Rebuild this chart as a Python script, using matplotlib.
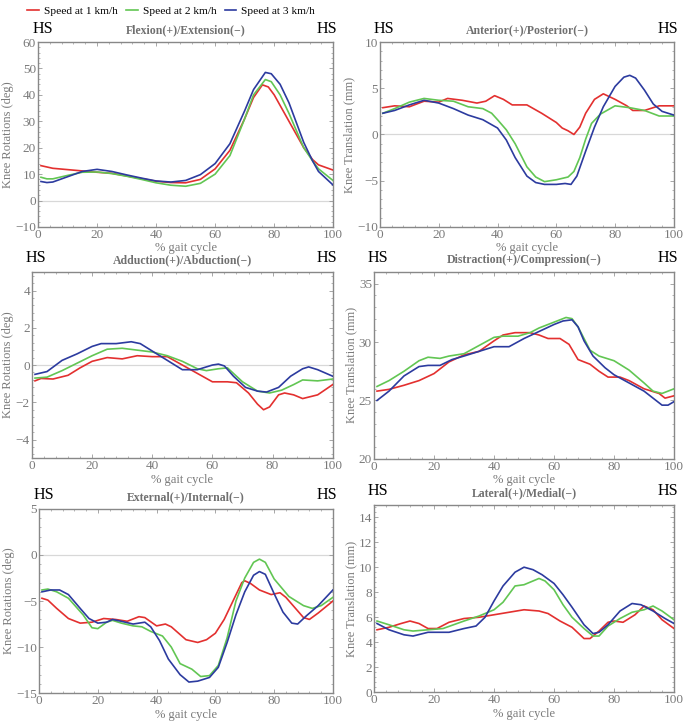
import numpy as np
import matplotlib
matplotlib.use("Agg")
from matplotlib import pyplot as plt
from matplotlib.ticker import MultipleLocator, AutoMinorLocator

plt.rcParams['font.family'] = ['Liberation Serif', 'DejaVu Serif']

speeds = ['Speed at 1 km/h', 'Speed at 2 km/h', 'Speed at 3 km/h']
colors = ['#e3302f', '#62c653', '#2c3b9f']

## Flexion(+)/Extension(-)
flex_x1 = [1, 5, 10, 15, 20, 25, 30, 35, 40, 45, 50, 55, 60, 65, 70, 73, 76, 78, 80, 85, 90, 93, 95, 100]
flex_y1 = [13.2, 12.2, 11.7, 11.2, 10.7, 10.3, 9.3, 8.3, 7.3, 6.8, 6.7, 8, 12, 19, 31, 39, 43.8, 43, 40, 30, 20, 15.5, 13.5, 11.5]
flex_x2 = [1, 3, 5, 10, 15, 20, 25, 30, 35, 40, 45, 50, 55, 60, 65, 70, 73, 77, 79, 82, 85, 90, 93, 95, 100]
flex_y2 = [8.8, 8.2, 8.2, 9.5, 10.7, 10.8, 10.2, 9.2, 8, 6.7, 5.8, 5.4, 6.5, 10, 17, 31, 40, 45.8, 45, 40, 33, 20, 15, 12, 7.5]
flex_x3 = [1, 3, 5, 10, 15, 20, 25, 30, 35, 40, 45, 50, 55, 60, 65, 70, 73, 77, 79, 82, 85, 90, 93, 95, 100]
flex_y3 = [7.2, 6.8, 7, 9, 11, 11.8, 11, 9.7, 8.5, 7.4, 7, 7.6, 9.8, 14, 21.5, 34, 42, 48.5, 48, 44, 37, 22, 15, 11, 5.8]

## Anterior(+)/Posterior(-)
ap_x1 = [1, 5, 10, 15, 20, 23, 28, 33, 36, 39, 42, 45, 50, 55, 60, 62, 64, 66, 68, 70, 73, 76, 80, 84, 86, 90, 95, 100]
ap_y1 = [2.9, 3.1, 3.0, 3.6, 3.5, 3.9, 3.7, 3.4, 3.6, 4.2, 3.8, 3.2, 3.2, 2.3, 1.3, 0.7, 0.4, 0.0, 0.8, 2.3, 3.8, 4.4, 3.8, 3.1, 2.6, 2.6, 3.1, 3.1]
ap_x2 = [1, 5, 10, 15, 20, 25, 30, 35, 38, 40, 43, 46, 50, 53, 56, 60, 64, 66, 68, 70, 72, 75, 80, 85, 90, 95, 100]
ap_y2 = [2.3, 2.8, 3.5, 3.9, 3.7, 3.6, 3.0, 2.8, 2.3, 1.6, 0.5, -1, -3.5, -4.6, -5.1, -4.9, -4.6, -4, -2.5, -0.5, 1.2, 2.2, 3.1, 2.9, 2.6, 2.0, 2.0]
ap_x3 = [1, 5, 10, 15, 20, 25, 30, 35, 40, 43, 46, 50, 53, 56, 60, 63, 65, 67, 70, 73, 76, 80, 83, 85, 87, 90, 93, 96, 100]
ap_y3 = [2.3, 2.6, 3.2, 3.7, 3.4, 2.8, 2.1, 1.6, 0.7, -0.6, -2.5, -4.5, -5.2, -5.4, -5.4, -5.3, -5.4, -4.5, -1.8, 0.8, 3, 5.2, 6.2, 6.4, 6.1, 4.8, 3.3, 2.5, 2.1]

## Adduction(+)/Abduction(-)
aa_x1 = [1, 3, 7, 12, 16, 20, 25, 30, 35, 40, 45, 50, 55, 60, 65, 68, 72, 75, 77, 79, 82, 84, 87, 90, 95, 100]
aa_y1 = [-0.85, -0.72, -0.75, -0.55, -0.15, 0.2, 0.4, 0.33, 0.5, 0.45, 0.45, 0.0, -0.45, -0.9, -0.9, -0.95, -1.5, -2.1, -2.4, -2.25, -1.6, -1.5, -1.6, -1.8, -1.6, -1.05]
aa_x2 = [1, 5, 10, 15, 20, 25, 30, 35, 40, 45, 50, 55, 58, 62, 65, 70, 75, 79, 83, 87, 90, 95, 100]
aa_y2 = [-0.7, -0.65, -0.3, 0.1, 0.5, 0.85, 0.9, 0.8, 0.7, 0.5, 0.2, -0.2, -0.3, -0.2, -0.15, -0.9, -1.4, -1.5, -1.35, -1.05, -0.8, -0.85, -0.75]
aa_x3 = [1, 5, 10, 15, 20, 23, 28, 33, 36, 40, 45, 50, 55, 60, 62, 64, 67, 71, 75, 78, 82, 86, 90, 92, 95, 100]
aa_y3 = [-0.5, -0.35, 0.25, 0.6, 1.0, 1.15, 1.15, 1.25, 1.15, 0.75, 0.25, -0.25, -0.25, 0.0, 0.05, -0.05, -0.6, -1.2, -1.4, -1.45, -1.2, -0.6, -0.2, -0.1, -0.25, -0.6]

## Distraction(+)/Compression(-)
dc_x1 = [1, 5, 10, 15, 20, 25, 30, 35, 40, 43, 47, 52, 55, 58, 62, 65, 68, 72, 75, 78, 82, 85, 90, 95, 97, 100]
dc_y1 = [25.8, 25.95, 26.3, 26.7, 27.3, 28.3, 28.9, 29.2, 30.1, 30.6, 30.8, 30.8, 30.6, 30.3, 30.3, 29.8, 28.5, 28.1, 27.5, 27.0, 27.0, 26.7, 26.0, 25.6, 25.2, 25.4]
dc_x2 = [1, 5, 10, 15, 18, 22, 25, 30, 35, 40, 43, 48, 52, 55, 60, 64, 66, 68, 72, 75, 80, 85, 90, 93, 96, 100]
dc_y2 = [26.2, 26.7, 27.5, 28.4, 28.7, 28.6, 28.8, 29.0, 29.7, 30.4, 30.5, 30.5, 30.8, 31.2, 31.7, 32.1, 32.0, 31.3, 29.3, 28.8, 28.4, 27.6, 26.5, 25.8, 25.6, 26.0]
dc_x3 = [1, 5, 10, 15, 18, 22, 26, 30, 35, 40, 45, 50, 55, 60, 63, 66, 68, 70, 73, 77, 80, 85, 90, 94, 96, 98, 100]
dc_y3 = [25.0, 25.8, 27.1, 27.9, 28.0, 28.0, 28.5, 28.8, 29.2, 29.6, 29.6, 30.3, 30.9, 31.5, 31.8, 31.9, 31.3, 30.1, 28.8, 27.8, 27.2, 26.5, 25.8, 25.0, 24.6, 24.6, 24.9]

## External(+)/Internal(-)
ei_x1 = [1, 3, 6, 10, 14, 18, 22, 26, 30, 34, 36, 40, 43, 45, 50, 54, 57, 60, 63, 66, 69, 70, 72, 75, 79, 82, 84, 87, 90, 92, 95, 100]
ei_y1 = [-4.7, -4.9, -5.8, -6.9, -7.4, -7.3, -6.9, -7.0, -7.2, -6.7, -6.8, -7.7, -7.5, -7.8, -9.2, -9.5, -9.2, -8.5, -7, -5, -3.0, -2.8, -3.1, -3.8, -4.3, -4.1, -4.6, -5.7, -6.8, -7.0, -6.3, -5.0]
ei_x2 = [1, 3, 6, 10, 15, 18, 20, 23, 25, 28, 32, 35, 38, 42, 45, 48, 52, 55, 58, 61, 64, 67, 70, 73, 75, 77, 80, 85, 90, 93, 96, 100]
ei_y2 = [-3.8, -3.7, -4.0, -4.7, -6.5, -7.9, -8.0, -7.3, -7.1, -7.4, -7.7, -7.8, -8.3, -8.8, -10, -11.8, -12.4, -13.2, -13.1, -12, -9, -5, -2.5, -0.8, -0.45, -0.8, -2.6, -4.5, -5.5, -5.8, -5.5, -4.6]
ei_x3 = [1, 4, 7, 10, 14, 17, 20, 23, 25, 28, 32, 36, 38, 41, 44, 48, 51, 54, 58, 61, 64, 67, 70, 73, 75, 77, 80, 83, 86, 88, 91, 95, 100]
ei_y3 = [-4.0, -3.8, -3.8, -4.3, -5.8, -6.9, -7.4, -7.3, -7.0, -7.2, -7.5, -7.3, -7.8, -9.3, -11.3, -13.0, -13.8, -13.7, -13.3, -12.2, -9.5, -6.5, -4, -2.2, -1.8, -2.1, -4.2, -6.2, -7.4, -7.5, -6.6, -5.5, -3.8]

## Lateral(+)/Medial(-)
lm_x1 = [1, 5, 9, 12, 15, 18, 21, 25, 30, 35, 40, 45, 50, 55, 58, 62, 66, 70, 72, 75, 78, 80, 83, 87, 90, 93, 96, 100]
lm_y1 = [5.0, 5.2, 5.5, 5.7, 5.5, 5.1, 5.1, 5.6, 5.9, 6.0, 6.2, 6.4, 6.6, 6.5, 6.3, 5.7, 5.2, 4.3, 4.3, 4.9, 5.6, 5.7, 5.6, 6.2, 6.9, 6.6, 5.8, 5.1]
lm_x2 = [1, 5, 10, 13, 18, 23, 30, 35, 40, 43, 47, 50, 53, 55, 57, 60, 63, 66, 70, 73, 75, 78, 82, 86, 90, 93, 96, 100]
lm_y2 = [5.7, 5.4, 5.0, 4.9, 5.0, 5.1, 5.7, 6.1, 6.6, 7.2, 8.5, 8.6, 8.9, 9.1, 8.9, 8.2, 7.0, 6.0, 5.1, 4.5, 4.5, 5.3, 5.9, 6.4, 6.6, 6.9, 6.5, 5.8]
lm_x3 = [1, 5, 10, 13, 18, 25, 30, 34, 37, 40, 43, 47, 50, 53, 56, 60, 63, 66, 70, 73, 75, 78, 82, 86, 89, 93, 97, 100]
lm_y3 = [5.5, 5.0, 4.6, 4.5, 4.8, 4.8, 5.1, 5.3, 6.0, 7.3, 8.5, 9.6, 10.0, 9.8, 9.4, 8.7, 7.8, 6.8, 5.4, 4.7, 4.8, 5.4, 6.5, 7.1, 7.0, 6.5, 5.9, 5.5]

panels = [
    ('Flexion(+)/Extension(\u2212)', 'Knee Rotations (deg)', (-10, 60), 10,
     [(flex_x1, flex_y1), (flex_x2, flex_y2), (flex_x3, flex_y3)]),
    ('Anterior(+)/Posterior(\u2212)', 'Knee Translation (mm)', (-10, 10), 5,
     [(ap_x1, ap_y1), (ap_x2, ap_y2), (ap_x3, ap_y3)]),
    ('Adduction(+)/Abduction(\u2212)', 'Knee Rotations (deg)', (-5, 5), 2,
     [(aa_x1, aa_y1), (aa_x2, aa_y2), (aa_x3, aa_y3)]),
    ('Distraction(+)/Compression(\u2212)', 'Knee Translation (mm)', (20, 36), 5,
     [(dc_x1, dc_y1), (dc_x2, dc_y2), (dc_x3, dc_y3)]),
    ('External(+)/Internal(\u2212)', 'Knee Rotations (deg)', (-15, 5), 5,
     [(ei_x1, ei_y1), (ei_x2, ei_y2), (ei_x3, ei_y3)]),
    ('Lateral(+)/Medial(\u2212)', 'Knee Translation (mm)', (0, 15), 2,
     [(lm_x1, lm_y1), (lm_x2, lm_y2), (lm_x3, lm_y3)]),
]

# axes rectangles in figure fractions
rects = [
    [0.0555, 0.687, 0.431, 0.255],
    [0.5547, 0.687, 0.429, 0.255],
    [0.0467, 0.368, 0.439, 0.257],
    [0.546, 0.367, 0.438, 0.258],
    [0.057, 0.044, 0.429, 0.254],
    [0.546, 0.045, 0.438, 0.259],
]

grey = '#7a7a7a'
fig = plt.figure(figsize=(6.85, 7.25), dpi=100)

for rect, (title, ylab, ylim, ystep, series) in zip(rects, panels):
    ax = fig.add_axes(rect)
    if ylim[0] < 0 < ylim[1]:
        ax.axhline(0, color='#d8d8d8', lw=0.9, zorder=1)
    for (xs, ys), c, lab in zip(series, colors, speeds):
        ax.plot(xs, ys, color=c, lw=1.2, label=lab, zorder=3)
    ax.set_xlim(0, 100)
    ax.set_ylim(*ylim)
    ax.xaxis.set_major_locator(MultipleLocator(20))
    ax.xaxis.set_minor_locator(MultipleLocator(4))
    ax.yaxis.set_major_locator(MultipleLocator(ystep))
    ax.yaxis.set_minor_locator(AutoMinorLocator(5))
    ax.tick_params(which='both', direction='in', top=True, right=True,
                   colors='#999999', labelcolor=grey, labelsize=9.5, pad=1.5)
    ax.tick_params(which='major', length=3, width=0.6)
    ax.tick_params(which='minor', length=1.5, width=0.5)
    for s in ax.spines.values():
        s.set_color('#888888')
        s.set_linewidth(1.0)
    ax.set_xlabel('% gait cycle', color=grey, fontsize=9, labelpad=1)
    ax.set_ylabel(ylab, color=grey, fontsize=9, labelpad=1)
    ax.text(0.5, 1.03, title, transform=ax.transAxes, ha='center', va='bottom',
            fontsize=8.5, fontweight='bold', color='#707070')
    ax.text(-0.02, 1.03, 'HS', transform=ax.transAxes, ha='left', va='bottom',
            fontsize=11.5, color='black')
    ax.text(1.015, 1.03, 'HS', transform=ax.transAxes, ha='right', va='bottom',
            fontsize=11.5, color='black')

handles = fig.axes[0].get_lines()[-3:]
fig.legend(handles, speeds, loc='center', bbox_to_anchor=(0.25, 0.985), ncol=3,
           frameon=False, fontsize=8.2, handlelength=1.0, handletextpad=0.45,
           columnspacing=0.75, borderaxespad=0, borderpad=0)

fig.savefig('out.png', dpi=100)
